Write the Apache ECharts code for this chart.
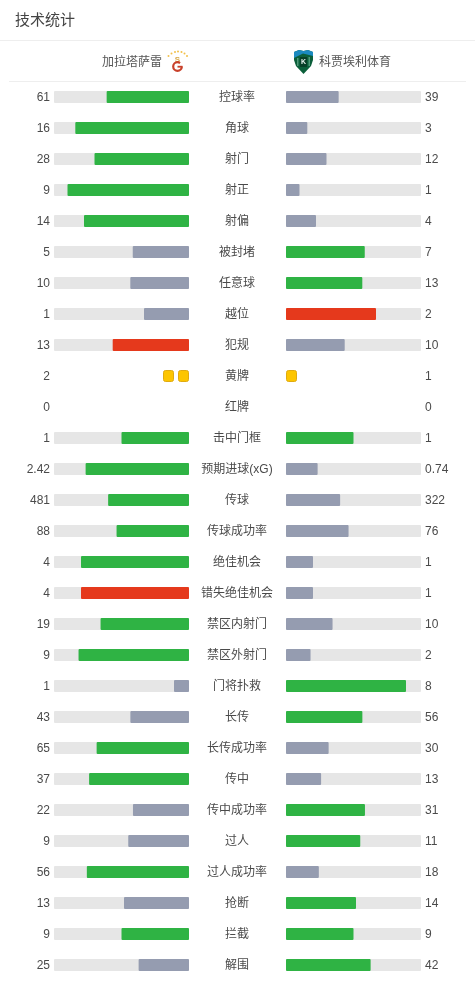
<!DOCTYPE html>
<html><head><meta charset="utf-8">
<style>html,body{margin:0;padding:0;background:#fff}#c{width:475px;height:981px}</style>
<script src="https://cdn.jsdelivr.net/npm/echarts@6/dist/echarts.min.js"></script>
</head><body><div id="c"></div>
<script>
const title = '技术统计';
const homeTeam = '加拉塔萨雷';
const awayTeam = '科贾埃利体育';
const categories = ['控球率','角球','射门','射正','射偏','被封堵','任意球','越位','犯规','黄牌','红牌','击中门框','预期进球(xG)','传球','传球成功率','绝佳机会','错失绝佳机会','禁区内射门','禁区外射门','门将扑救','长传','长传成功率','传中','传中成功率','过人','过人成功率','抢断','拦截','解围'];
const homeValues = [61,16,28,9,14,5,10,1,13,2,0,1,2.42,481,88,4,4,19,9,1,43,65,37,22,9,56,13,9,25];
const awayValues = [39,3,12,1,4,7,13,2,10,1,0,1,0.74,322,76,1,1,10,2,8,56,30,13,31,11,18,14,9,42];
const cardRows = ['黄牌','红牌'];
const lowerIsBetter = ['越位','犯规','错失绝佳机会'];
const GREEN='#2fb344', GREY='#959cb0', RED='#e5391c', TRACK='#e6e6e6', CARD='#fdc500';

const isCard = c => cardRows.includes(c);
function barData(mine, other){
  return categories.map((c,i)=>{
    if(isCard(c)) return '-';
    const a=mine[i], b=other[i], share=a/(a+b);
    const bad=lowerIsBetter.includes(c);
    let color = GREY;
    if(a>=b) color = bad ? RED : GREEN;
    return {value:share,itemStyle:{color}};
  });
}
const trackData = categories.map(c=>isCard(c)?'-':1);
function cardData(values){
  return categories.map((c,i)=>isCard(c)?[0,c,values[i]]:null).filter(Boolean);
}
const font = '"Liberation Sans","Noto Sans CJK SC",sans-serif';
const textColor = '#4a4a4a';
function cardSeries(values, xi, dir){
  return {type:'custom',xAxisIndex:xi,yAxisIndex:xi,silent:true,z:5,clip:false,
    data:cardData(values),encode:{x:0,y:1},
    renderItem(p,api){
      const pt=api.coord([0,api.value(1)]), n=api.value(2), kids=[];
      for(let k=0;k<n;k++){
        const x = dir>0 ? pt[0]+k*15 : pt[0]-11-k*15;
        kids.push({type:'rect',shape:{x:x+0.5,y:pt[1]-5.5,width:10,height:11,r:2},
          style:{fill:CARD,stroke:'#e0ab10',lineWidth:1}});
      }
      return {type:'group',children:kids};
    }};
}
function bars(xi,data){
  return [
    {type:'bar',xAxisIndex:xi,yAxisIndex:xi,data:trackData,barWidth:12,barGap:'-100%',silent:true,z:1,
      itemStyle:{color:TRACK,borderRadius:1},animation:false},
    {type:'bar',xAxisIndex:xi,yAxisIndex:xi,data:data,barWidth:12,barGap:'-100%',silent:true,z:2,
      itemStyle:{borderRadius:1},animation:false}
  ];
}
// Bars sit in grids 0 and 1; labels sit in grids 2 and 3, 1px lower, matching the reference's text baseline.
const grids=[
  {left:54,top:81.5,width:135,height:899},{left:286,top:81.5,width:135,height:899},
  {left:54,top:82.5,width:135,height:899},{left:286,top:82.5,width:135,height:899}
];
const star=(x,y,r)=>({type:'circle',shape:{cx:x,cy:y,r},style:{fill:'#f2c04a'}});
const labelBase={interval:0,fontSize:12,color:textColor,fontFamily:font};
const hiddenY=(g)=>({gridIndex:g,type:'category',inverse:true,data:categories,show:false});
const labelY=(g,position,extra)=>({gridIndex:g,type:'category',inverse:true,data:categories,position,
  axisLine:{show:false},axisTick:{show:false},axisLabel:{...labelBase,...extra}});
const option={
  animation:false,backgroundColor:'#fff',
  textStyle:{fontFamily:font},
  grid:grids,
  xAxis:[
    {gridIndex:0,type:'value',min:0,max:1,inverse:true,show:false},
    {gridIndex:1,type:'value',min:0,max:1,show:false},
    {gridIndex:2,type:'value',min:0,max:1,show:false},
    {gridIndex:3,type:'value',min:0,max:1,show:false}
  ],
  yAxis:[
    hiddenY(0),
    hiddenY(1),
    labelY(2,'left',{margin:4,align:'right',formatter:(v,i)=>String(homeValues[i])}),
    labelY(3,'right',{margin:4,align:'left',formatter:(v,i)=>String(awayValues[i])}),
    labelY(3,'left',{margin:49,align:'center'})
  ],
  series:[
    ...bars(0,barData(homeValues,awayValues)),
    ...bars(1,barData(awayValues,homeValues)),
    cardSeries(homeValues,0,-1),
    cardSeries(awayValues,1,1)
  ],
  graphic:[
    {type:'text',x:15,y:13,style:{text:title,fontSize:15,fill:'#444',fontFamily:font}},
    {type:'line',shape:{x1:0,y1:40.5,x2:475,y2:40.5},style:{stroke:'#eeeeee',lineWidth:1}},
    {type:'line',shape:{x1:9,y1:81.5,x2:466,y2:81.5},style:{stroke:'#eeeeee',lineWidth:1}},
    {type:'text',x:102,y:57,style:{text:homeTeam,fontSize:12,fill:'#555',fontFamily:font}},
    {type:'text',x:319,y:57,style:{text:awayTeam,fontSize:12,fill:'#555',fontFamily:font}},
    star(168.5,56,1),star(171.5,53.5,1),star(175,52,1),star(178,51.5,1),star(181.5,52,1),star(184.5,53.5,1),star(187,56,1),
    {type:'text',x:177.5,y:59.5,style:{text:'S',fontSize:8,fontWeight:'bold',fill:'#d8a848',align:'center',verticalAlign:'middle',fontFamily:font}},
    {type:'arc',shape:{cx:177.5,cy:66.5,r:4.3,startAngle:0,endAngle:Math.PI*1.7,clockwise:true},style:{fill:'none',stroke:'#c8402a',lineWidth:2.2}},
    {type:'rect',shape:{x:177.5,y:65.8,width:5,height:1.8},style:{fill:'#c8402a'}},
    {type:'polygon',shape:{points:[[294,52],[299,50],[303.5,51],[308,50],[313,52],[313,60],[311,66],[303.5,74],[296,66],[294,60]]},style:{fill:'#0b5f3a'}},
    {type:'polygon',shape:{points:[[294,52],[299,50],[303.5,51],[308,50],[313,52],[313,56],[303,53.5],[294,58]]},style:{fill:'#1b8ac0'}},
    {type:'rect',shape:{x:308.5,y:57,width:1.5,height:9},style:{fill:'#4f9a78'}},
    {type:'rect',shape:{x:297,y:58,width:1.5,height:8},style:{fill:'#4f9a78'}},
    {type:'rect',shape:{x:300,y:57,width:7,height:10},style:{fill:'#083f28'}},
    {type:'text',x:303.5,y:62,style:{text:'K',fontSize:7,fontWeight:'bold',fill:'#e8f3ee',align:'center',verticalAlign:'middle',fontFamily:font}}
  ]
};
echarts.init(document.getElementById('c'),null,{renderer:'canvas'}).setOption(option);
</script></body></html>
